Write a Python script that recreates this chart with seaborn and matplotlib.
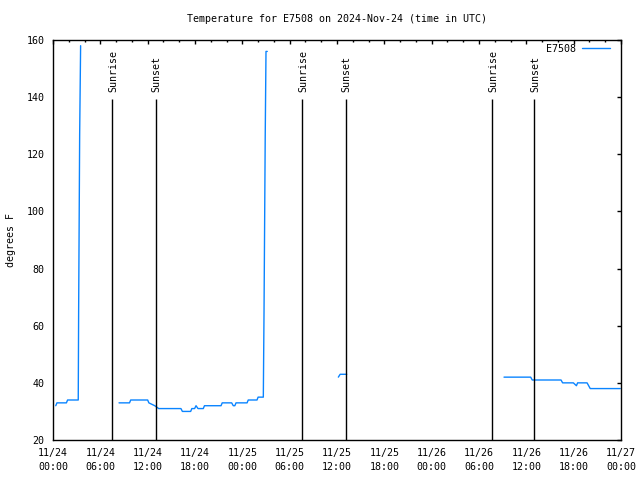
import numpy as np
import pandas as pd
import matplotlib
matplotlib.use("Agg")
import matplotlib.pyplot as plt
import seaborn as sns
from matplotlib.ticker import MultipleLocator, FixedLocator
from matplotlib.lines import Line2D

# ---- data (hours since 2024-11-24 00:00 UTC) ----
seg1_t = [0.35, 0.5, 1.7, 1.85, 3.2, 3.25, 3.38, 3.5]
seg1_v = [32, 33, 33, 34, 34, 65, 127, 158]
seg2_t = [8.37, 9.7, 9.85, 12.0, 12.15, 12.9, 13.4, 16.22, 16.4, 17.45, 17.6, 17.95, 18.13, 18.38,
          19.05, 19.2, 21.3, 21.45, 22.65, 22.85, 23.05, 23.2, 24.6, 24.75, 25.86, 26.0, 26.66,
          26.75, 26.9, 27.0, 27.16]
seg2_v = [33, 33, 34, 34, 33, 32, 31, 31, 30, 30, 31, 31, 32, 31,
          31, 32, 32, 33, 33, 32, 32, 33, 33, 34, 34, 35, 35,
          65, 126, 156, 156]
seg3_t = [36.17, 36.4, 37.23]
seg3_v = [42, 43, 43]
seg4_t = [57.17, 60.55, 60.75, 64.4, 64.6, 65.96, 66.35, 66.5, 67.7, 68.1, 71.9]
seg4_v = [42, 42, 41, 41, 40, 40, 39, 40, 40, 38, 38]

sunrise_t = [7.5, 31.6, 55.7]
sunset_t = [13.0, 37.1, 61.0]

x_tick_hours = [0, 6, 12, 18, 24, 30, 36, 42, 48, 54, 60, 66, 72]
x_tick_labels = ["11/24\n00:00", "11/24\n06:00", "11/24\n12:00", "11/24\n18:00",
                 "11/25\n00:00", "11/25\n06:00", "11/25\n12:00", "11/25\n18:00",
                 "11/26\n00:00", "11/26\n06:00", "11/26\n12:00", "11/26\n18:00",
                 "11/27\n00:00"]
y_ticks = [20, 40, 60, 80, 100, 120, 140, 160]

series_name = "E7508"
title = "Temperature for E7508 on 2024-Nov-24 (time in UTC)"
y_label = "degrees F"

segs = [(seg1_t, seg1_v), (seg2_t, seg2_v), (seg3_t, seg3_v), (seg4_t, seg4_v)]
rows = []
for i, (tt, vv) in enumerate(segs):
    for a, b in zip(tt, vv):
        rows.append({"t": a, "T": b, "seg": i})
df = pd.DataFrame(rows)

# ---- style ----
sns.set_style("white")
plt.rcParams["font.family"] = ["DejaVu Sans Mono", "DejaVu Sans"]
for k in ["text.color", "axes.labelcolor", "xtick.color", "ytick.color", "axes.edgecolor"]:
    plt.rcParams[k] = "black"
FS = 7.2
line_color = "#0a84ff"

fig = plt.figure(figsize=(6.4, 4.8), dpi=100)
ax = fig.add_axes([53 / 640, 40 / 480, 568 / 640, 400 / 480])

sns.lineplot(data=df, x="t", y="T", units="seg", estimator=None, sort=False,
             color=line_color, linewidth=1.0, ax=ax, legend=False)

# sunrise / sunset markers
for x in sunrise_t:
    ax.vlines(x, 20, 139.5, color="black", linewidth=1.0)
    ax.text(x + 0.15, 141.8, "Sunrise", rotation=90, ha="center", va="bottom", fontsize=FS)
for x in sunset_t:
    ax.vlines(x, 20, 139.5, color="black", linewidth=1.0)
    ax.text(x + 0.15, 141.8, "Sunset", rotation=90, ha="center", va="bottom", fontsize=FS)

ax.set_xlim(0, 72)
ax.set_ylim(20, 160)
ax.xaxis.set_major_locator(FixedLocator(x_tick_hours))
ax.set_xticklabels(x_tick_labels, fontsize=FS, linespacing=1.45)
ax.xaxis.set_minor_locator(MultipleLocator(2))
ax.set_yticks(y_ticks)
ax.set_yticklabels([str(v) for v in y_ticks], fontsize=FS)
ax.tick_params(which="both", direction="in", top=True, right=True, color="black", width=1.0)
ax.tick_params(which="major", length=3.0)
ax.tick_params(which="minor", length=1.6)
ax.tick_params(axis="x", which="major", pad=6)
ax.tick_params(axis="y", which="major", pad=6)

for s in ax.spines.values():
    s.set_visible(True)
    s.set_color("black")
    s.set_linewidth(1.0)

ax.set_xlabel("")
ax.set_ylabel("")
fig.text(11 / 640, 0.5, y_label, rotation=90, ha="center", va="center", fontsize=FS)
fig.text(337 / 640, 1 - 19 / 480, title, ha="center", va="center", fontsize=FS)

handle = Line2D([], [], color=line_color, linewidth=1.0)
leg = ax.legend([handle], [series_name], loc="upper right", bbox_to_anchor=(1.0, 1.0 + 7 / 400),
                frameon=False, fontsize=FS,
                markerfirst=False, handlelength=2.8, borderaxespad=0.7, handletextpad=0.6)

fig.savefig("out.png", dpi=100)
